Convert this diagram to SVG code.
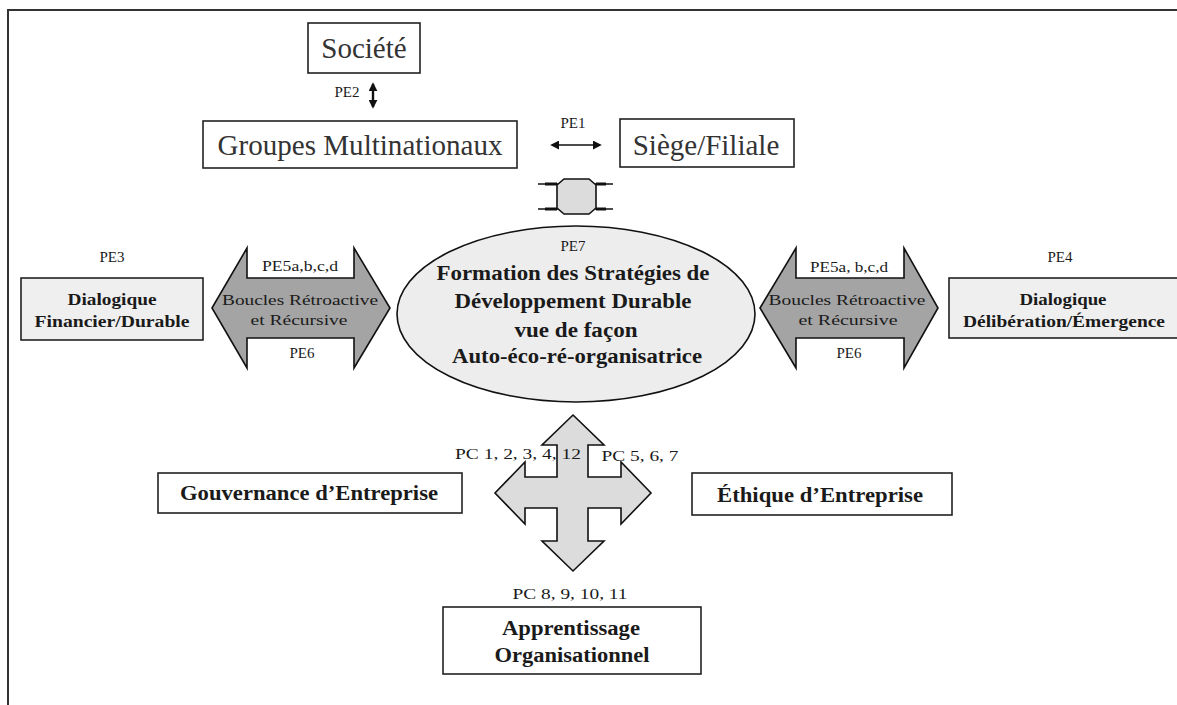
<svg xmlns="http://www.w3.org/2000/svg" width="1177" height="705" viewBox="0 0 1177 705">
  <style>
    .frame { stroke: #333; stroke-width: 2; fill: none; }
    .box { fill: #ffffff; stroke: #222; stroke-width: 1.6; }
    .tint { fill: #efefef; stroke: #222; stroke-width: 1.6; }
    .big { font-family: "Liberation Serif", "Times New Roman", serif; font-size: 29px; fill: #333; text-anchor: middle; }
    .lbl { font-family: "Liberation Serif", "Times New Roman", serif; font-size: 15px; fill: #1a1a1a; text-anchor: middle; }
    .bold { font-family: "Liberation Serif", "Times New Roman", serif; font-size: 16px; font-weight: bold; fill: #1a1a1a; text-anchor: middle; }
    .core { font-family: "Liberation Serif", "Times New Roman", serif; font-size: 20px; font-weight: bold; fill: #1a1a1a; text-anchor: middle; }
    .loop { fill: #a4a4a4; stroke: #111; stroke-width: 1.6; stroke-linejoin: miter; }
    .cross { fill: #dcdcdc; stroke: #111; stroke-width: 1.6; }
    .thin { stroke: #111; stroke-width: 1.4; fill: none; }
  </style>
  <defs>
    <marker id="head" viewBox="0 0 10 10" refX="8" refY="5" markerUnits="userSpaceOnUse" markerWidth="9" markerHeight="9" orient="auto-start-reverse">
      <path d="M0,0 L10,5 L0,10 Z" fill="#111"/>
    </marker>
  </defs>

  <!-- page frame (top and left rules) -->
  <path class="frame" d="M8,705 L8,10 L1177,10"/>

  <!-- nodes -->
  <g id="societe">
    <rect class="box" x="308" y="23" width="112" height="50"/>
    <text class="big" x="364" y="58">Société</text>
  </g>
  <g id="groupes">
    <rect class="box" x="203" y="121" width="314" height="47"/>
    <text class="big" x="360" y="155" textLength="285" lengthAdjust="spacingAndGlyphs">Groupes Multinationaux</text>
  </g>
  <g id="siege">
    <rect class="box" x="620" y="119" width="174" height="48"/>
    <text class="big" x="706" y="155">Siège/Filiale</text>
  </g>
  <g id="formation">
    <ellipse cx="576" cy="314" rx="179" ry="88" fill="#ededed" stroke="#111" stroke-width="1.6"/>
    <text class="lbl" x="573" y="251" font-size="16">PE7</text>
    <text class="core" x="573" y="280" textLength="273" lengthAdjust="spacingAndGlyphs">Formation des Stratégies de</text>
    <text class="core" x="573" y="308" textLength="237" lengthAdjust="spacingAndGlyphs">Développement Durable</text>
    <text class="core" x="576" y="337" textLength="123" lengthAdjust="spacingAndGlyphs">vue de façon</text>
    <text class="core" x="577" y="363" textLength="250" lengthAdjust="spacingAndGlyphs">Auto-éco-ré-organisatrice</text>
  </g>
  <g id="dialogique-financier">
    <text class="lbl" x="112" y="262" font-size="16">PE3</text>
    <rect class="tint" x="21" y="278" width="182" height="62"/>
    <text class="bold" x="112" y="305" textLength="89" lengthAdjust="spacingAndGlyphs">Dialogique</text>
    <text class="bold" x="112" y="327" textLength="155" lengthAdjust="spacingAndGlyphs">Financier/Durable</text>
  </g>
  <g id="dialogique-deliberation">
    <text class="lbl" x="1060" y="262" font-size="16">PE4</text>
    <rect class="tint" x="949" y="278" width="232" height="60"/>
    <text class="bold" x="1063" y="305" textLength="87" lengthAdjust="spacingAndGlyphs">Dialogique</text>
    <text class="bold" x="1064" y="327" textLength="202" lengthAdjust="spacingAndGlyphs">Délibération/Émergence</text>
  </g>
  <g id="gouvernance">
    <rect class="box" x="158" y="473" width="304" height="40"/>
    <text class="core" x="309" y="500" textLength="258" lengthAdjust="spacingAndGlyphs">Gouvernance d’Entreprise</text>
  </g>
  <g id="ethique">
    <rect class="box" x="692" y="473" width="260" height="42"/>
    <text class="core" x="820" y="502" textLength="206" lengthAdjust="spacingAndGlyphs">Éthique d’Entreprise</text>
  </g>
  <g id="apprentissage">
    <text class="lbl" x="570" y="599" font-size="17" textLength="115" lengthAdjust="spacingAndGlyphs">PC 8, 9, 10, 11</text>
    <rect class="box" x="443" y="607" width="258" height="67"/>
    <text class="core" x="571" y="635" textLength="138" lengthAdjust="spacingAndGlyphs">Apprentissage</text>
    <text class="core" x="572" y="662" textLength="155" lengthAdjust="spacingAndGlyphs">Organisationnel</text>
  </g>

  <!-- connectors -->
  <g id="connectors">
    <!-- PE2: Société / Groupes -->
    <text class="lbl" x="347" y="97" font-size="14">PE2</text>
    <line x1="373" y1="84" x2="373" y2="107" stroke="#111" stroke-width="2.4" marker-start="url(#head)" marker-end="url(#head)"/>

    <!-- PE1: Groupes / Siège -->
    <text class="lbl" x="573" y="128" font-size="15">PE1</text>
    <line x1="552" y1="145" x2="600" y2="145" stroke="#111" stroke-width="1.6" marker-start="url(#head)" marker-end="url(#head)"/>

    <!-- coupling between the top row and the ellipse -->
    <g id="coupling">
      <line class="thin" x1="538" y1="184" x2="613" y2="184"/>
      <line class="thin" x1="538" y1="209" x2="613" y2="209"/>
      <line x1="545" y1="184" x2="557" y2="184" stroke="#111" stroke-width="3"/>
      <line x1="545" y1="209" x2="557" y2="209" stroke="#111" stroke-width="3"/>
      <line x1="596" y1="184" x2="606" y2="184" stroke="#111" stroke-width="3"/>
      <line x1="596" y1="209" x2="606" y2="209" stroke="#111" stroke-width="3"/>
      <polygon points="564,179 589,179 596,185 596,208 589,214 564,214 557,208 557,185" fill="#dcdcdc" stroke="#111" stroke-width="1.6"/>
    </g>

    <!-- left feedback loop arrow -->
    <g id="loop-left">
      <polygon class="loop" points="212,308 247,248 247,278 354,278 354,248 390,308 354,368 354,338 247,338 247,368"/>
      <rect x="248" y="249" width="105" height="28" fill="#fff"/>
      <rect x="248" y="339" width="105" height="28" fill="#fff"/>
      <text class="lbl" x="300" y="271" textLength="76" lengthAdjust="spacingAndGlyphs">PE5a,b,c,d</text>
      <text class="lbl" x="300" y="305" font-size="16" textLength="156" lengthAdjust="spacingAndGlyphs">Boucles Rétroactive</text>
      <text class="lbl" x="299" y="325" font-size="16" textLength="97" lengthAdjust="spacingAndGlyphs">et Récursive</text>
      <text class="lbl" x="302" y="358" font-size="16">PE6</text>
    </g>

    <!-- right feedback loop arrow -->
    <g id="loop-right">
      <polygon class="loop" points="760,308 796,248 796,278 904,278 904,248 938,308 904,368 904,338 796,338 796,368"/>
      <rect x="797" y="249" width="106" height="28" fill="#fff"/>
      <rect x="797" y="339" width="106" height="28" fill="#fff"/>
      <text class="lbl" x="849" y="272" textLength="78" lengthAdjust="spacingAndGlyphs">PE5a, b,c,d</text>
      <text class="lbl" x="847" y="305" font-size="16" textLength="157" lengthAdjust="spacingAndGlyphs">Boucles Rétroactive</text>
      <text class="lbl" x="848" y="325" font-size="16" textLength="99" lengthAdjust="spacingAndGlyphs">et Récursive</text>
      <text class="lbl" x="849" y="358" font-size="16">PE6</text>
    </g>

    <!-- four-way arrow between the ellipse and the three poles -->
    <g id="cross">
      <polygon class="cross" points="573,415 604,445 588,445 588,477 621,477 621,462 651,493 621,524 621,508 588,508 588,541 604,541 573,571 542,541 557,541 557,508 525,508 525,524 495,493 525,462 525,477 557,477 557,445 542,445"/>
      <text class="lbl" x="518" y="459" font-size="17" text-anchor="end" textLength="126" lengthAdjust="spacingAndGlyphs">PC 1, 2, 3, 4, 12</text>
      <text class="lbl" x="640" y="461" font-size="17" text-anchor="start" textLength="77" lengthAdjust="spacingAndGlyphs">PC 5, 6, 7</text>
    </g>
  </g>
</svg>
